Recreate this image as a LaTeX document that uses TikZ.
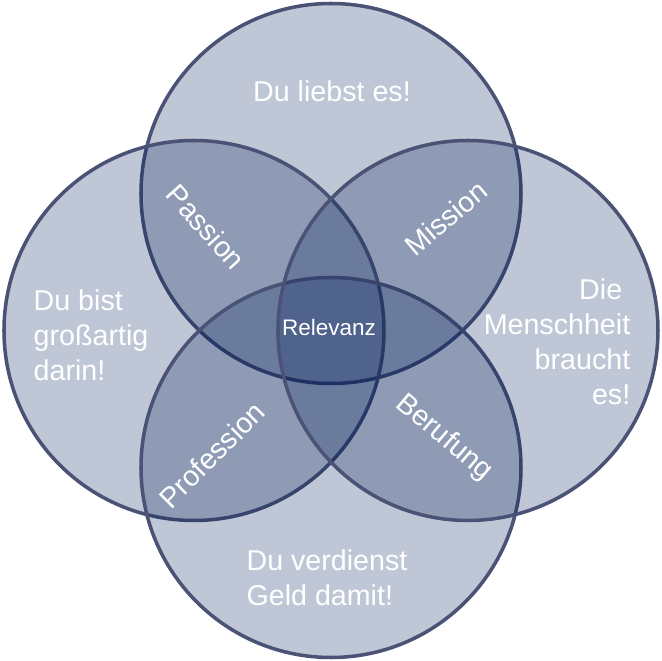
\documentclass[tikz,border=0pt]{standalone}
\usepackage{fontspec}
\setmainfont{Liberation Sans}
\definecolor{venn}{RGB}{0,27,87}
\definecolor{rim}{RGB}{74,82,117}

\begin{document}
\begin{tikzpicture} [kreis/.style= {shape=circle,minimum size=7.6cm,inner sep=0,draw=rim,line width=2pt,fill=venn,fill opacity=0.25},
  feld/.style= {text=white,inner sep=0,font=\fontsize{16.3}{19.9}\selectfont},
  mitte/.style= {text=white,inner sep=0,font=\fontsize{12.8}{15}\selectfont}]
\useasboundingbox (-6.62,-6.61) rectangle (6.62,6.61);
\foreach \n/\x/\y in {lieben/0/2.74, koennen/-2.74/0, verdienen/0/-2.74, brauchen/2.74/0}{%
  \node[kreis] (\n) at (\x,\y) {};}

\node [feld, anchor=base] (tl) at (0.02, 4.57) {Du liebst es!};
\node [feld, align=left] (tk) at (-4.8, -0.09) {Du bist\\großartig\\darin!};
\node [feld, align=right] (tb) at (4.52, -0.22) {Die\hspace*{0.28em}\\Menschheit\\braucht\\es!};
\node [feld, align=left] (tv) at (-0.08, -4.95) {Du verdienst\\Geld damit!};

\node [feld, rotate=-48] (passion) at (-2.5, 2.07) {Passion};
\node [feld, rotate=40] (mission) at (2.3, 2.25) {Mission};
\node [feld, rotate=-40] (berufung) at (2.26, -2.15) {Berufung};
\node [feld, rotate=45] (profession) at (-2.38, -2.49) {Profession};
\node [mitte] (relevanz) at (-0.04, 0.07) {Relevanz};
\end{tikzpicture}
\end{document}
